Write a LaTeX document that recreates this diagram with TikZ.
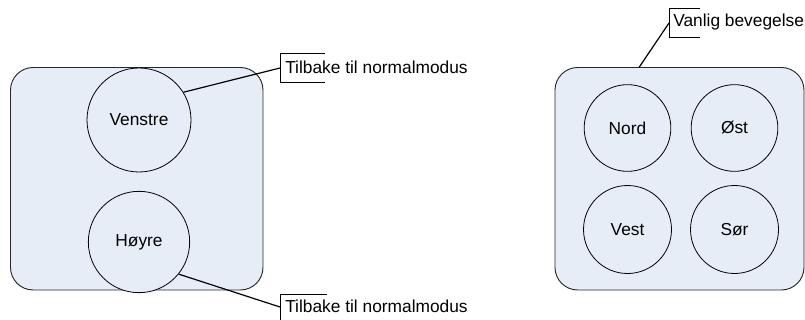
\documentclass[tikz,border=0pt]{standalone}
\usepackage{fontspec}
\setmainfont{Liberation Sans}
\definecolor{boxfill}{RGB}{231,237,247}
\definecolor{boxline}{RGB}{40,40,40}
\begin{document}
\begin{tikzpicture}[x=0.75pt,y=-0.75pt,
  panel/.style={draw=boxline,fill=boxfill,rounded corners=17pt,line width=0.7pt},
  bubble/.style={circle,draw=black,fill=boxfill,line width=0.6pt,inner sep=0pt,font=\fontsize{13}{15}\selectfont},
  calltext/.style={anchor=west,inner sep=0pt,font=\fontsize{13}{15}\selectfont},
  bracket/.style={draw=black,line width=0.7pt},
  leader/.style={draw=black,line width=0.9pt}]
\useasboundingbox (0,0) rectangle (805,320);
% panels
\draw[panel] (10.5,67.5) rectangle (263,290);
\draw[panel] (555,67.5) rectangle (804,290);
% left circles
\node[bubble,minimum size=78pt] (ven) at (139,120) {Venstre};
\node[bubble,minimum size=76pt] (hoy) at (139,242) {Høyre};
% right circles
\node[bubble,minimum size=65pt] (nord) at (627.5,128) {Nord};
\node[bubble,minimum size=65pt] (ost) at (734.5,128) {Øst};
\node[bubble,minimum size=66pt] (vest) at (627.5,229.5) {Vest};
\node[bubble,minimum size=66pt] (sor) at (734.5,229.5) {Sør};
% callout 1
\node[calltext] (c1) at (285,67) {Tilbake til normalmodus};
\coordinate (c1a) at (325,53.5);
\coordinate (c1b) at (280,53.5);
\coordinate (c1m) at (280,68);
\coordinate (c1c) at (280,82.5);
\coordinate (c1d) at (325,82.5);
\draw[bracket] (c1a) -- (c1b) -- (c1c) -- (c1d);
\draw[leader] (c1m) -- (ven.32.5);
% callout 2
\node[calltext] (c2) at (285,306) {Tilbake til normalmodus};
\coordinate (c2a) at (327,294.5);
\coordinate (c2b) at (280,294.5);
\coordinate (c2m) at (280,307);
\coordinate (c2c) at (280,325);
\draw[bracket] (c2a) -- (c2b) -- (c2c);
\draw[leader] (c2m) -- (hoy.-39);
% callout 3
\node[calltext] (c3) at (673,22) {Vanlig bevegelse};
\coordinate (c3a) at (700,8.5);
\coordinate (c3b) at (669,8.5);
\coordinate (c3m) at (669,23);
\coordinate (c3c) at (669,37);
\coordinate (c3d) at (700,37);
\coordinate (c3e) at (639,67.5);
\draw[bracket] (c3a) -- (c3b) -- (c3c) -- (c3d);
\draw[leader] (c3m) -- (c3e);
\end{tikzpicture}
\end{document}
